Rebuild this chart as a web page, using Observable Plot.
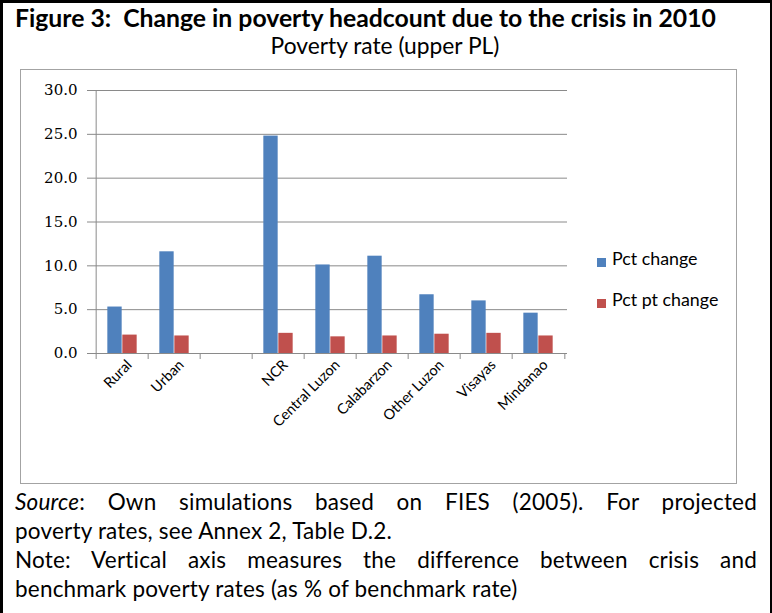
<!DOCTYPE html>
<html>
<head>
<meta charset="utf-8">
<script src="https://cdn.jsdelivr.net/npm/d3@7"></script>
<script src="https://cdn.jsdelivr.net/npm/@observablehq/plot@0.6"></script>
<style>
  html, body { margin: 0; padding: 0; background: #fff; }
  #page { position: relative; width: 772px; height: 613px; overflow: hidden; background: #fff; color: #000; font-family: Lato, "Open Sans", sans-serif; }
  .edge { position: absolute; background: #000; }
  .txt { position: absolute; top: 0; white-space: pre; line-height: 1; }
  .cap { position: absolute; top: 0; left: 15px; width: 742px; white-space: nowrap; line-height: 1; text-align: left; }
  .cap.just { text-align: justify; text-align-last: justify; }
  #box { position: absolute; left: 20px; top: 69px; width: 717px; height: 415px; box-sizing: border-box; border: 1px solid #a3a3a3; }
  #chart { position: absolute; left: 20px; top: 69px; }
  .key { position: absolute; width: 9px; height: 9px; }
  #chart g[aria-label="y-axis tick label"] { font-family: "DejaVu Serif", serif; font-size: 15px; }
  #chart g[aria-label="x-axis tick label"] { font-family: Lato, sans-serif; font-size: 14.5px; }
</style>
</head>
<body>
<div id="page">
  <div class="edge" style="left:0;top:0;width:3px;height:613px"></div>
  <div class="edge" style="left:0;top:0;width:772px;height:3px"></div>
  <div class="edge" style="left:770px;top:0;width:2px;height:613px"></div>
  <div id="box"></div>
  <div id="chart"></div>
</div>
<script>
// Poverty headcount change by area and region, 2010 crisis simulation
const regions = ["Rural", "Urban", "NCR", "Central Luzon", "Calabarzon", "Other Luzon", "Visayas", "Mindanao"];
const pctChange = [5.3, 11.6, 24.8, 10.1, 11.1, 6.7, 6.0, 4.6];
const pctPtChange = [2.1, 2.0, 2.3, 1.9, 2.0, 2.2, 2.3, 2.0];
const seriesNames = ["Pct change", "Pct pt change"];
// category slots along the x axis; the blank slot separates area from regions
const axisSlots = ["Rural", "Urban", " ", "NCR", "Central Luzon", "Calabarzon", "Other Luzon", "Visayas", "Mindanao"];
const yTicks = [0, 5, 10, 15, 20, 25, 30];

const titleText = "Figure 3:  Change in poverty headcount due to the crisis in 2010";
const subtitleText = "Poverty rate (upper PL)";
const captionLines = [
  "<i>Source</i>: Own simulations based on FIES (2005). For projected",
  "poverty rates, see Annex 2, Table D.2.",
  "Note: Vertical axis measures the difference between crisis and",
  "benchmark poverty rates (as % of benchmark rate)"
];

const BLUE = "#4f81bd", RED = "#c0504d", GRID = "#8a8a8a";
const FONT = "Lato";

const page = document.getElementById("page");
const ctx = document.createElement("canvas").getContext("2d");
function textWidth(text, weight, size) {
  ctx.font = `${weight} ${size}px ${FONT}`;
  return ctx.measureText(text).width;
}
function fitSize(text, weight, target) {
  return 100 * target / textWidth(text, weight, 100);
}
function setBaseline(el, y) {
  const m = document.createElement("span");
  m.style.cssText = "display:inline-block;width:0;height:0;vertical-align:baseline";
  el.appendChild(m);
  const b = m.getBoundingClientRect().top - page.getBoundingClientRect().top;
  el.removeChild(m);
  el.style.top = (parseFloat(el.style.top || 0) + y - b) + "px";
}
function addText(html, cls, style, baseline) {
  const el = document.createElement("div");
  el.className = cls;
  el.innerHTML = html;
  Object.assign(el.style, style);
  page.appendChild(el);
  setBaseline(el, baseline);
  return el;
}

// heading lines
addText(titleText, "txt", {left: "15px", fontWeight: "bold", fontSize: fitSize(titleText, "bold", 702) + "px"}, 27);
addText(subtitleText, "txt", {left: "0px", width: "770px", textAlign: "center", fontSize: fitSize(subtitleText, "normal", 230) + "px"}, 54);

// caption below the chart
const capSize = 22.5, capTrack = 0.2;
captionLines.forEach((line, i) => {
  addText(line, "cap" + (i % 2 === 0 ? " just" : ""),
    {fontSize: capSize + "px", letterSpacing: capTrack + "px"}, 510 + i * 29);
});

// chart
const W = 717, H = 415, mL = 73, mR = 170, mT = 21, mB = 131;
const bw = (W - mL - mR) / axisSlots.length;
const barW = 15;

const rows = regions.flatMap((r, i) => [
  {region: r, series: seriesNames[0], value: pctChange[i]},
  {region: r, series: seriesNames[1], value: pctPtChange[i]}
]);

const chart = Plot.plot({
  width: W, height: H,
  marginLeft: mL, marginRight: mR, marginTop: mT, marginBottom: mB,
  style: {background: "transparent", overflow: "visible"},
  x: {type: "band", domain: axisSlots, padding: 0},
  y: {domain: [0, 30]},
  color: {domain: seriesNames, range: [BLUE, RED]},
  marks: [
    Plot.ruleY(yTicks, {stroke: GRID}),
    ...seriesNames.map((s, k) => Plot.barY(rows.filter(d => d.series === s), {
      x: "region", y: "value", fill: "series",
      insetLeft: k === 0 ? bw / 2 - barW : bw / 2,
      insetRight: k === 0 ? bw / 2 : bw / 2 - barW
    })),
    Plot.ruleY([0], {stroke: GRID}),
    Plot.ruleX([axisSlots[0]], {dx: -bw / 2, stroke: GRID}),
    Plot.axisY({ticks: yTicks, tickFormat: d => d.toFixed(1), tickSize: 6, tickPadding: 10, stroke: GRID, label: null}),
    Plot.axisX({ticks: axisSlots, tickFormat: () => "", tickSize: 6, dx: -bw / 2, stroke: GRID, label: null}),
    Plot.axisX({ticks: axisSlots.slice(-1), tickFormat: () => "", tickSize: 6, dx: bw / 2, stroke: GRID, label: null}),
    Plot.axisX({ticks: regions, tickSize: 0, tickRotate: -45, tickPadding: 9, dx: 7, label: null})
  ]
});
document.getElementById("chart").appendChild(chart);

// legend
seriesNames.forEach((s, k) => {
  const sw = document.createElement("div");
  sw.className = "key";
  sw.style.left = "597px";
  sw.style.top = (258 + k * 40.5) + "px";
  sw.style.background = k === 0 ? BLUE : RED;
  page.appendChild(sw);
  addText(s, "txt", {left: "612px", fontSize: fitSize(seriesNames[0], "normal", 85.6) + "px"}, 264.5 + k * 41);
});
</script>
</body>
</html>
